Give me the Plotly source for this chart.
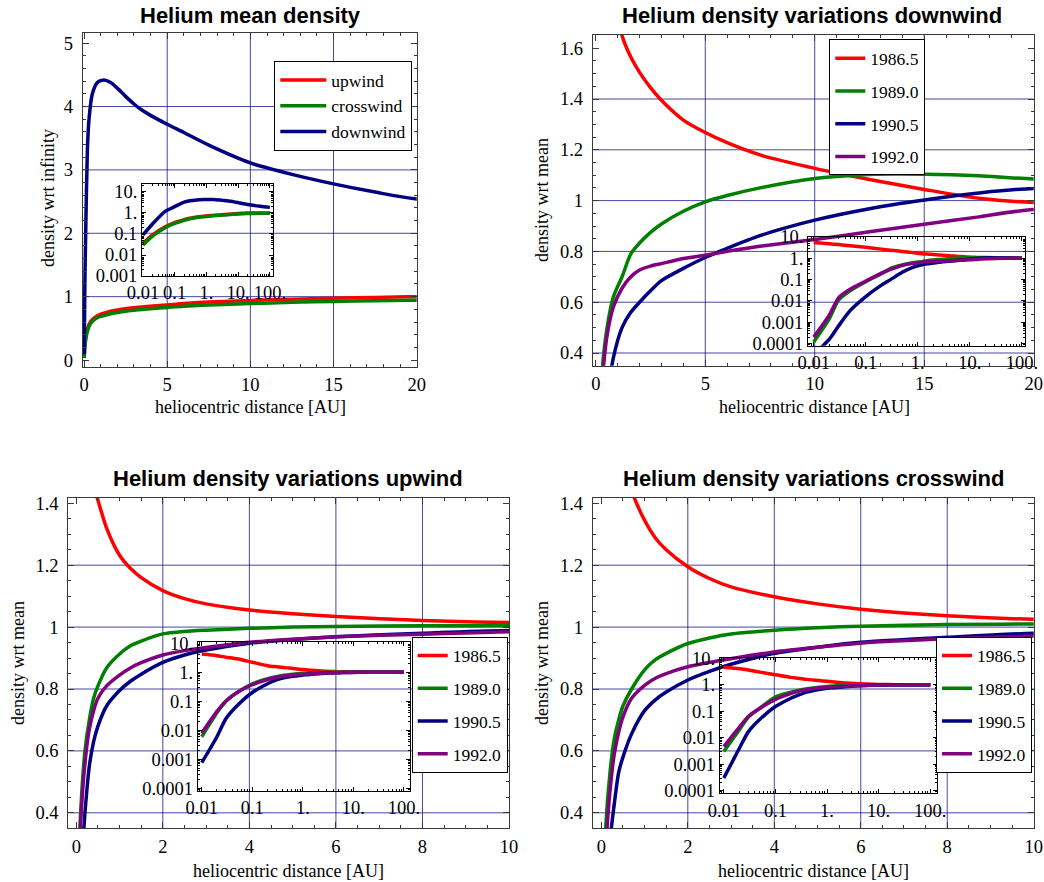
import plotly.graph_objects as go

W, H = 1044, 882
SERIF = "Liberation Serif"
SANS = "Liberation Sans"
RED, GREEN, NAVY, PURPLE = "#ff0000", "#008000", "#000080", "#800080"
GRID = "rgba(0,0,128,0.72)"
FRAME = "#3a3a3a"

# ---------------- data ----------------
# Panel 1: mean density (wrt infinity)
x_mean = [0.01, 0.02, 0.05, 0.1, 0.2, 0.3, 0.5, 0.8, 1.2, 1.6, 2, 2.5, 3, 3.5, 4, 5, 6, 7.5, 10, 12.5, 15, 17.5, 20, 50, 100]
mean_upwind = [0.035, 0.09, 0.22, 0.35, 0.48, 0.56, 0.64, 0.70, 0.74, 0.77, 0.79, 0.81, 0.825, 0.838, 0.85, 0.87, 0.89, 0.915, 0.94, 0.96, 0.975, 0.988, 0.998, 1.0, 1.0]
mean_crosswind = [0.03, 0.08, 0.2, 0.32, 0.45, 0.53, 0.61, 0.67, 0.70, 0.73, 0.75, 0.77, 0.785, 0.798, 0.81, 0.83, 0.85, 0.87, 0.89, 0.91, 0.925, 0.937, 0.945, 0.96, 0.97]
mean_downwind = [0.09, 0.3, 1.2, 2.0, 3.3, 3.8, 4.2, 4.38, 4.42, 4.38, 4.29, 4.16, 4.04, 3.94, 3.86, 3.72, 3.59, 3.39, 3.11, 2.93, 2.78, 2.65, 2.54, 2.1, 1.85]
mean_names = ["upwind", "crosswind", "downwind"]

years = ["1986.5", "1989.0", "1990.5", "1992.0"]
year_colors = [RED, GREEN, NAVY, PURPLE]

# Panel 2: downwind variations (wrt mean)
x_down = [0.01, 0.02, 0.03, 0.05, 0.1, 0.2, 0.3, 0.5, 0.8, 1.2, 1.6, 2, 2.5, 3, 4, 5, 6, 7.5, 10, 12.5, 15, 17.5, 20, 50, 100]
down_1986 = [5.5, 4.8, 4.4, 3.9, 3.3, 2.7, 2.4, 2.1, 1.85, 1.65, 1.565, 1.505, 1.445, 1.395, 1.317, 1.268, 1.228, 1.18, 1.127, 1.083, 1.044, 1.009, 0.993, 1.0, 1.0]
down_1989 = [0.00012, 0.0015, 0.011, 0.03, 0.08, 0.19, 0.34, 0.49, 0.62, 0.70, 0.79, 0.833, 0.875, 0.908, 0.958, 0.995, 1.02, 1.05, 1.087, 1.103, 1.104, 1.098, 1.085, 1.05, 1.02]
down_1990 = [0.00003, 0.00016, 0.00067, 0.0035, 0.016, 0.055, 0.1, 0.22, 0.38, 0.50, 0.56, 0.60, 0.645, 0.685, 0.733, 0.776, 0.812, 0.862, 0.923, 0.968, 1.002, 1.03, 1.048, 1.03, 1.0]
down_1992 = [0.0002, 0.0022, 0.014, 0.035, 0.085, 0.2, 0.3, 0.46, 0.58, 0.655, 0.70, 0.727, 0.742, 0.752, 0.772, 0.785, 0.80, 0.82, 0.847, 0.877, 0.907, 0.936, 0.965, 1.0, 1.0]

# Panel 3: upwind variations (wrt mean)
x_up = [0.01, 0.02, 0.03, 0.05, 0.1, 0.2, 0.3, 0.4, 0.5, 0.7, 1, 1.25, 1.5, 2, 2.5, 3, 4, 5, 6, 8, 10, 20, 50, 100]
up_1986 = [4.2, 3.7, 3.3, 2.9, 2.2, 1.68, 1.54, 1.46, 1.41, 1.32, 1.232, 1.19, 1.16, 1.118, 1.092, 1.075, 1.055, 1.043, 1.034, 1.021, 1.015, 1.005, 1.0, 1.0]
up_1989 = [0.006, 0.04, 0.1, 0.2, 0.4, 0.6, 0.70, 0.77, 0.81, 0.868, 0.913, 0.94, 0.955, 0.978, 0.986, 0.99, 0.996, 1.0, 1.002, 1.004, 1.005, 1.005, 1.0, 1.0]
up_1990 = [0.00077, 0.006, 0.025, 0.07, 0.2, 0.4, 0.55, 0.63, 0.68, 0.745, 0.795, 0.825, 0.848, 0.886, 0.91, 0.926, 0.948, 0.96, 0.969, 0.98, 0.989, 0.997, 1.0, 1.0]
up_1992 = [0.008, 0.045, 0.1, 0.2, 0.37, 0.56, 0.67, 0.73, 0.77, 0.81, 0.845, 0.868, 0.885, 0.91, 0.924, 0.934, 0.951, 0.961, 0.969, 0.977, 0.985, 0.995, 1.0, 1.0]

# Panel 4: crosswind variations (wrt mean)
x_cross = [0.01, 0.02, 0.03, 0.05, 0.1, 0.2, 0.3, 0.4, 0.5, 0.7, 1, 1.25, 1.5, 2, 2.5, 3, 4, 5, 6, 8, 10, 20, 50, 100]
cross_1986 = [4.6, 4.0, 3.6, 3.0, 2.4, 1.9, 1.72, 1.6, 1.53, 1.44, 1.345, 1.288, 1.25, 1.195, 1.157, 1.13, 1.098, 1.075, 1.058, 1.037, 1.025, 1.01, 1.0, 1.0]
cross_1989 = [0.003, 0.02, 0.06, 0.13, 0.35, 0.53, 0.64, 0.70, 0.745, 0.80, 0.862, 0.895, 0.915, 0.947, 0.965, 0.978, 0.99, 0.998, 1.003, 1.008, 1.01, 1.01, 1.0, 1.0]
cross_1990 = [0.0003, 0.004, 0.017, 0.05, 0.15, 0.31, 0.43, 0.53, 0.58, 0.655, 0.73, 0.765, 0.79, 0.829, 0.857, 0.88, 0.915, 0.935, 0.951, 0.967, 0.98, 0.995, 1.0, 1.0]
cross_1992 = [0.0046, 0.025, 0.065, 0.13, 0.28, 0.47, 0.59, 0.66, 0.71, 0.77, 0.812, 0.835, 0.85, 0.872, 0.886, 0.898, 0.92, 0.935, 0.948, 0.962, 0.971, 0.99, 1.0, 1.0]

titles = ["Helium mean density", "Helium density variations downwind",
          "Helium density variations upwind", "Helium density variations crosswind"]
xlabel = "heliocentric distance [AU]"
ylabels = ["density wrt infinity", "density wrt mean", "density wrt mean", "density wrt mean"]

inset_xticks = [0.01, 0.1, 1, 10, 100]
inset_xtext = ["0.01", "0.1", "1.", "10.", "100."]
inset_yticks = [0.0001, 0.001, 0.01, 0.1, 1, 10]
inset_ytext = ["0.0001", "0.001", "0.01", "0.1", "1.", "10."]

# ---------------- helpers ----------------
def dx(a, b):
    return [a / W, b / W]

def dy(top, bottom):
    return [1 - bottom / H, 1 - top / H]

def sfx(n):
    return "" if n == 1 else str(n)

fig = go.Figure()

panels = [
    dict(x=x_mean, ys=[mean_upwind, mean_crosswind, mean_downwind], names=mean_names,
         colors=[RED, GREEN, NAVY], legend="legend"),
    dict(x=x_down, ys=[down_1986, down_1989, down_1990, down_1992], names=years,
         colors=year_colors, legend="legend2"),
    dict(x=x_up, ys=[up_1986, up_1989, up_1990, up_1992], names=years,
         colors=year_colors, legend="legend3"),
    dict(x=x_cross, ys=[cross_1986, cross_1989, cross_1990, cross_1992], names=years,
         colors=year_colors, legend="legend4"),
]

for i, p in enumerate(panels):
    n = i + 1
    m = i + 5
    for y, name, c in zip(p["ys"], p["names"], p["colors"]):
        fig.add_trace(go.Scatter(x=p["x"], y=y, mode="lines", name=name,
                                 line=dict(color=c, width=3.5, shape="spline", smoothing=0.7),
                                 xaxis=f"x{sfx(n)}", yaxis=f"y{sfx(n)}", legend=p["legend"],
                                 legendgroup=f"{p['legend']}_{name}", showlegend=True))
    for y, name, c in zip(p["ys"], p["names"], p["colors"]):
        fig.add_trace(go.Scatter(x=p["x"], y=y, mode="lines", name=name,
                                 line=dict(color=c, width=3.5, shape="spline", smoothing=0.7),
                                 xaxis=f"x{m}", yaxis=f"y{m}", showlegend=False))

tickfont = dict(family=SERIF, size=18.5, color="black")

main_specs = [
    dict(xd=(82.7, 416.7), yd=(33, 367), xr=[-0.08, 20], yr=[-0.11, 5.16],
         xdt=5, xmin=1, ydt=1, y0=0, ymin=0.2, gx=[5, 10, 15], gy=[1, 2, 3, 4]),
    dict(xd=(592.7, 1033.7), yd=(35, 365.7), xr=[-0.14, 20], yr=[0.35, 1.652],
         xdt=5, xmin=1, ydt=0.2, y0=0.4, ymin=0.05, gx=[5, 10, 15], gy=[0.4, 0.6, 0.8, 1.0, 1.2, 1.4]),
    dict(xd=(68.3, 509), yd=(497.7, 828.3), xr=[-0.185, 10], yr=[0.35, 1.418],
         xdt=2, xmin=0.5, ydt=0.2, y0=0.4, ymin=0.05, gx=[2, 4, 6, 8], gy=[0.4, 0.6, 0.8, 1.0, 1.2]),
    dict(xd=(592.7, 1033.7), yd=(497.7, 828.3), xr=[-0.2, 10], yr=[0.35, 1.418],
         xdt=2, xmin=0.5, ydt=0.2, y0=0.4, ymin=0.05, gx=[2, 4, 6, 8], gy=[0.4, 0.6, 0.8, 1.0, 1.2]),
]

inset_specs = [
    dict(xd=(142, 273), yd=(184, 276), xr=[-2.03, 2.1], yr=[-3.0, 1.38]),
    dict(xd=(808, 1025), yd=(237, 345.7), xr=[-2.11, 2.06], yr=[-4.1, 1.0]),
    dict(xd=(197.7, 410), yd=(642.3, 791), xr=[-2.08, 2.12], yr=[-4.09, 1.03]),
    dict(xd=(719.7, 937), yd=(658.3, 793.3), xr=[-2.08, 2.13], yr=[-4.1, 1.0]),
]

log_minor = [k * 10.0 ** e for e in range(-5, 3) for k in range(2, 10)]

layout = dict(width=W, height=H, margin=dict(l=0, r=0, t=0, b=0, autoexpand=False),
              paper_bgcolor="white", plot_bgcolor="rgba(0,0,0,0)", showlegend=True,
              font=dict(family=SERIF, size=17, color="black"))

shapes = []
for i, s in enumerate(main_specs):
    n = i + 1
    k = sfx(n)
    common = dict(showline=True, mirror="allticks", linecolor=FRAME, linewidth=1,
                  ticks="inside", ticklen=6, tickcolor=FRAME, tickwidth=1, automargin=False,
                  showgrid=False, zeroline=False, tickfont=tickfont, fixedrange=True)
    layout[f"xaxis{k}"] = dict(common, domain=dx(*s["xd"]), range=s["xr"], anchor=f"y{k}",
                               tickmode="linear", tick0=0, dtick=s["xdt"], ticklabelstandoff=1,
                               minor=dict(ticks="inside", ticklen=3, tickcolor=FRAME,
                                          tickmode="linear", tick0=0, dtick=s["xmin"]))
    layout[f"yaxis{k}"] = dict(common, domain=dy(*s["yd"]), range=s["yr"], anchor=f"x{k}",
                               tickmode="linear", tick0=s["y0"], dtick=s["ydt"], ticklabelstandoff=5,
                               minor=dict(ticks="inside", ticklen=3, tickcolor=FRAME,
                                          tickmode="linear", tick0=0, dtick=s["ymin"]))
    for gxv in s["gx"]:
        shapes.append(dict(type="line", xref=f"x{k}", yref=f"y{k} domain", x0=gxv, x1=gxv,
                           y0=0, y1=1, line=dict(color=GRID, width=1), layer="below"))
    for gyv in s["gy"]:
        shapes.append(dict(type="line", xref=f"x{k} domain", yref=f"y{k}", x0=0, x1=1,
                           y0=gyv, y1=gyv, line=dict(color=GRID, width=1), layer="below"))

for i, s in enumerate(inset_specs):
    m = i + 5
    common = dict(type="log", showline=True, mirror="allticks", linecolor="black", linewidth=1,
                  ticks="inside", ticklen=4, tickcolor="black", tickwidth=1, automargin=False,
                  showgrid=False, zeroline=False, tickfont=tickfont, fixedrange=True,
                  minor=dict(ticks="inside", ticklen=2, tickcolor="black", tickvals=log_minor))
    layout[f"xaxis{m}"] = dict(common, domain=dx(*s["xd"]), range=s["xr"], anchor=f"y{m}",
                               tickmode="array", tickvals=inset_xticks, ticktext=inset_xtext)
    layout[f"yaxis{m}"] = dict(common, domain=dy(*s["yd"]), range=s["yr"], anchor=f"x{m}",
                               tickmode="array", tickvals=inset_yticks, ticktext=inset_ytext)

layout["shapes"] = shapes

legend_common = dict(bgcolor="white", bordercolor="black", borderwidth=1,
                     font=dict(family=SERIF, size=17.5, color="black"),
                     xanchor="left", yanchor="top", traceorder="grouped")
layout["legend"] = dict(legend_common, x=274.3 / W, y=1 - 61 / H, tracegroupgap=0, itemwidth=46)
layout["legend2"] = dict(legend_common, x=829.3 / W, y=1 - 39.3 / H, tracegroupgap=7, itemwidth=30)
layout["legend3"] = dict(legend_common, x=411.7 / W, y=1 - 636.7 / H, tracegroupgap=7, itemwidth=30)
layout["legend4"] = dict(legend_common, x=936 / W, y=1 - 636.7 / H, tracegroupgap=7, itemwidth=30)

annotations = []
title_pos = [(250, 15), (812, 15), (288, 478), (813, 478)]
for t, (px, py) in zip(titles, title_pos):
    annotations.append(dict(text=f"<b>{t}</b>", x=px / W, y=1 - py / H, xref="paper", yref="paper",
                            showarrow=False, xanchor="center", yanchor="middle",
                            font=dict(family=SANS, size=22, color="black")))
xlab_pos = [(250, 407), (814, 407), (288, 871), (813, 871)]
for (px, py) in xlab_pos:
    annotations.append(dict(text=xlabel, x=px / W, y=1 - py / H, xref="paper", yref="paper",
                            showarrow=False, xanchor="center", yanchor="middle",
                            font=dict(family=SERIF, size=18, color="black")))
ylab_pos = [(48, 198), (542, 200), (18, 663), (542, 663)]
for t, (px, py) in zip(ylabels, ylab_pos):
    annotations.append(dict(text=t, x=px / W, y=1 - py / H, xref="paper", yref="paper",
                            showarrow=False, xanchor="center", yanchor="middle", textangle=-90,
                            font=dict(family=SERIF, size=18, color="black")))
layout["annotations"] = annotations

fig.update_layout(**layout)
fig.write_html("out.html")
